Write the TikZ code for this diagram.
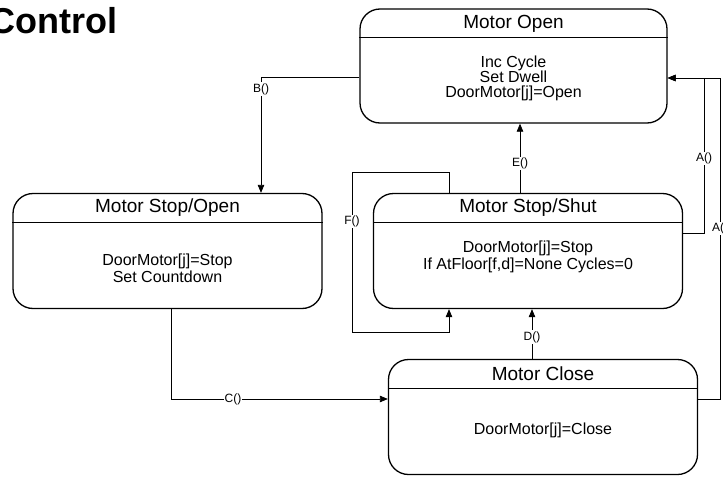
\documentclass[tikz,border=0pt]{standalone}
\usepackage{fontspec}
\setmainfont{Liberation Sans}
\usetikzlibrary{arrows.meta, positioning, calc}
\tikzset{
    statebox/.style={rectangle, rounded corners=20pt, draw=black, line width=1.3pt, minimum width=309pt, minimum height=115pt, inner sep=0pt},
    statetitle/.style={inner sep=0pt, font=\fontsize{19}{21}\selectfont},
    statebody/.style={inner sep=0pt, align=center, font=\fontsize{16}{17}\selectfont},
    divider/.style={line width=1pt},
    trans/.style={-{Triangle[length=8pt, width=6.5pt]}, line width=0.8pt},
    lbl/.style={fill=white, inner sep=1pt, font=\fontsize{12}{12}\selectfont},
    heading/.style={inner sep=0pt, font=\bfseries\fontsize{36}{36}\selectfont},
}

\begin{document}
\begin{tikzpicture}[x=1pt, y=-1pt]
    \useasboundingbox (0,0) rectangle (723,479);

    \node[heading, anchor=base east] (head) at (118,33) {Control};

    % states
    \node[statebox, minimum width=307pt, minimum height=114pt] (open) at (513.5,66) {};
    \node[statetitle] (open-t) at ([yshift=-15pt]open.north) {Motor Open};
    \draw[divider] ([yshift=-29pt]open.north west) -- ([yshift=-29pt]open.north east);
    \node[statebody] (open-b) at ([yshift=-70pt]open.north) {Inc Cycle\\[-2pt]Set Dwell\\[-2pt]DoorMotor[j]=Open};

    \node[statebox] (stopopen) at (167.5,251) {};
    \node[statetitle] (stopopen-t) at ([yshift=-15pt]stopopen.north) {Motor Stop/Open};
    \draw[divider] ([yshift=-30pt]stopopen.north west) -- ([yshift=-30pt]stopopen.north east);
    \node[statebody] (stopopen-b) at ([yshift=-75pt]stopopen.north) {DoorMotor[j]=Stop\\Set Countdown};

    \node[statebox] (shut) at (528,251) {};
    \node[statetitle] (shut-t) at ([yshift=-15pt]shut.north) {Motor Stop/Shut};
    \draw[divider] ([yshift=-30pt]shut.north west) -- ([yshift=-30pt]shut.north east);
    \node[statebody] (shut-b) at ([yshift=-64pt]shut.north) {DoorMotor[j]=Stop\\If AtFloor[f,d]=None Cycles=0};

    \node[statebox] (close) at (543,417) {};
    \node[statetitle] (close-t) at ([yshift=-15pt]close.north) {Motor Close};
    \draw[divider] ([yshift=-30pt]close.north west) -- ([yshift=-30pt]close.north east);
    \node[statebody] (close-b) at ([yshift=-72pt]close.north) {DoorMotor[j]=Close};

    % transitions
    \draw[trans] ([yshift=-11pt]open.west) -| node[lbl, pos=0.552] (lb) {B()} ([xshift=93.5pt]stopopen.north);
    \draw[trans] ([xshift=3.5pt]stopopen.south) |- node[lbl, pos=0.643] (lc) {C()} ([yshift=18pt]close.west);
    \draw[trans] ([xshift=-11pt]close.north) -- node[lbl, pos=0.44] (ld) {D()} ([xshift=4pt]shut.south);
    \draw[trans] ([xshift=-8pt]shut.north) -- node[lbl, pos=0.43] (le) {E()} ([xshift=6.5pt]open.south);
    \draw[trans] ([xshift=-79pt]shut.north) |- (352,172) -- node[lbl, pos=0.31] (lf) {F()} (352,332) -| ([xshift=-79pt]shut.south);
    \draw[trans] ([yshift=18pt]shut.east) -| node[lbl, pos=0.74] (la) {A()} (704,78) -- ([yshift=-12pt]open.east);
    \draw[trans] ([yshift=18pt]close.east) -| node[lbl, pos=0.766] (la2) {A()} (720,78) -- ([yshift=-12pt]open.east);
\end{tikzpicture}
\end{document}
